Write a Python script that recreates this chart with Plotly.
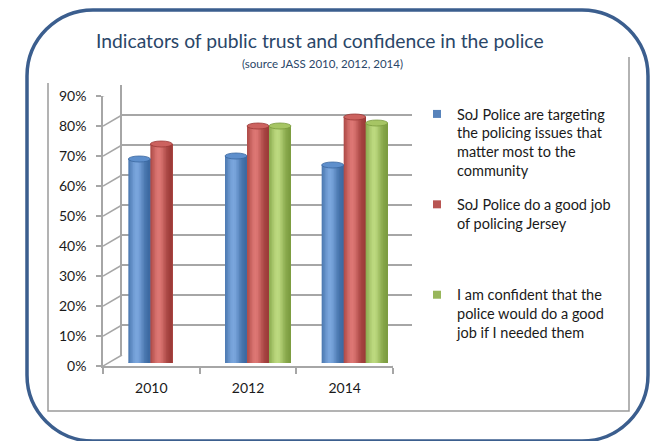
import math
import plotly.graph_objects as go

# ---- data -------------------------------------------------------------
years = ["2010", "2012", "2014"]
series_names = [
    "SoJ Police are targeting<br>the policing issues that<br>matter most to the<br>community",
    "SoJ Police do a good job<br>of policing Jersey<br> <br> ",
    "I am confident that the<br>police would do a good<br>job if I needed them",
]
targeting = [68, 69, 66]
good_job = [73, 79, 82]
confident = [None, 79, 80]
y_ticks = [0, 10, 20, 30, 40, 50, 60, 70, 80, 90]
y_tick_labels = ["0%", "10%", "20%", "30%", "40%", "50%", "60%", "70%", "80%", "90%"]

values = [targeting, good_job, confident]

# ---- styling ----------------------------------------------------------
W, H = 653, 441
FONT = "Lato"
palette = [
    # dark edge, highlight, cap fill
    ("#3A679F", "#7AA6DD", "#5E8FCC"),
    ("#9A3936", "#DD7774", "#CC625F"),
    ("#7A9A3E", "#BCD97F", "#A6C564"),
]
GRID = "#A6A6A6"


def px_x(px):
    return px / W


def px_y(py):
    return 1 - py / H


def mix(c1, c2, t):
    a = [int(c1[i:i + 2], 16) for i in (1, 3, 5)]
    b = [int(c2[i:i + 2], 16) for i in (1, 3, 5)]
    return "#" + "".join(f"{round(a[k] + (b[k] - a[k]) * t):02x}" for k in range(3))


fig = go.Figure()

# invisible traces registering the front and back category axes
for xa, ya in (("x", "y"), ("x2", "y2")):
    fig.add_trace(go.Scatter(x=years, y=[0, 0, 0], mode="markers",
                             marker=dict(opacity=0), showlegend=False,
                             hoverinfo="skip", xaxis=xa, yaxis=ya))

# cylinders: each bar is painted as a stack of vertical shading strips
slot = 0.2276
group_left = -1.5 * slot
N = 14
for i, vals in enumerate(values):
    dark, light, cap = palette[i]
    left = group_left + i * slot
    for k in range(N):
        t = (k + 0.5) / N
        g = math.exp(-((t - 0.38) / 0.33) ** 2)
        fig.add_trace(go.Bar(
            x=years, y=vals,
            offset=left + k * slot / N, width=slot * (N - k) / N,
            marker=dict(color=mix(dark, light, g), line=dict(width=0)),
            showlegend=False, hoverinfo="skip",
            xaxis="x3", yaxis="y3",
        ))

# legend entries
for i, name in enumerate(series_names):
    dark, light, cap = palette[i]
    fig.add_trace(go.Scatter(
        x=[None], y=[None], mode="markers", name=name,
        legendgroup=f"g{i}",
        marker=dict(symbol="square", size=8, color=mix(dark, light, 0.45)),
        xaxis="x3", yaxis="y3",
    ))

shapes = []
# cylinder caps and rounded bottoms, placed through the bar axes
cap_h = 1.0
for i, vals in enumerate(values):
    dark, light, cap = palette[i]
    left = group_left + i * slot
    for j, v in enumerate(vals):
        if v is None:
            continue
        x0 = j + left
        x1 = j + left + slot
        shapes.append(dict(type="circle", xref="x3", yref="y3",
                           x0=x0, x1=x1, y0=-cap_h, y1=cap_h,
                           fillcolor=mix(dark, light, 0.35),
                           line=dict(width=0), layer="between"))
        shapes.append(dict(type="circle", xref="x3", yref="y3",
                           x0=x0, x1=x1, y0=v - cap_h, y1=v + cap_h,
                           fillcolor=cap, line=dict(color=dark, width=0.8),
                           layer="above"))

# perspective edges joining the front axis ticks to the back wall
for t in y_ticks:
    shapes.append(dict(type="line", xref="x", yref="y",
                       xsizemode="pixel", ysizemode="pixel",
                       xanchor=-0.5, yanchor=t,
                       x0=0, x1=19, y0=0, y1=11,
                       line=dict(color=GRID, width=1.5)))
shapes.append(dict(type="line", xref="x", yref="y",
                   xsizemode="pixel", ysizemode="pixel",
                   xanchor=2.5, yanchor=0,
                   x0=0, x1=19, y0=0, y1=11,
                   line=dict(color=GRID, width=1.5)))

# chart area border (left, bottom, right)
shapes.append(dict(type="path", xref="paper", yref="paper",
                   path=f"M {px_x(48)},{px_y(83)} L {px_x(48)},{px_y(411)} "
                        f"L {px_x(629)},{px_y(411)} L {px_x(629)},{px_y(57)}",
                   line=dict(color="#9A9A9A", width=1.5)))

# outer rounded frame
L_, R_, T_, B_, r = 27, 648, 10, 441, 66
k = 0.5523 * r


def P(x, y):
    return f"{px_x(x):.5f},{px_y(y):.5f}"


frame = (
    f"M {P(L_ + r, T_)} L {P(R_ - r, T_)} "
    f"C {P(R_ - r + k, T_)} {P(R_, T_ + r - k)} {P(R_, T_ + r)} "
    f"L {P(R_, B_ - r)} "
    f"C {P(R_, B_ - r + k)} {P(R_ - r + k, B_)} {P(R_ - r, B_)} "
    f"L {P(L_ + r, B_)} "
    f"C {P(L_ + r - k, B_)} {P(L_, B_ - r + k)} {P(L_, B_ - r)} "
    f"L {P(L_, T_ + r)} "
    f"C {P(L_, T_ + r - k)} {P(L_ + r - k, T_)} {P(L_ + r, T_)} Z"
)
shapes.append(dict(type="path", xref="paper", yref="paper", path=frame,
                   line=dict(color="#3B5E8E", width=3.5)))

axis_font = dict(family=FONT, size=14, color="#1A1A1A")

fig.update_layout(
    width=W, height=H,
    autosize=False,
    margin=dict(l=0, r=0, t=0, b=0, pad=0, autoexpand=False),
    paper_bgcolor="white",
    plot_bgcolor="rgba(0,0,0,0)",
    barmode="overlay",
    showlegend=True,
    font=dict(family=FONT),
    shapes=shapes,
    # front axes: tick labels and the front edges
    xaxis=dict(domain=[px_x(103), px_x(393)], type="category",
               categoryarray=years, range=[-0.5, 2.5],
               tickson="boundaries", ticks="outside", ticklen=6,
               tickcolor=GRID, tickwidth=1.5, ticklabelstandoff=8,
               showline=True, linecolor=GRID, linewidth=1.5,
               showgrid=False, zeroline=False, tickfont=axis_font,
               anchor="y", fixedrange=True, automargin=False),
    yaxis=dict(domain=[px_y(366), px_y(96)], range=[0, 90],
               tickvals=y_ticks, ticktext=y_tick_labels, ticks="outside",
               ticklen=5, tickcolor=GRID, tickwidth=1.5, ticklabelstandoff=7,
               showline=True, linecolor=GRID, linewidth=1.5,
               showgrid=False, zeroline=False, tickfont=axis_font,
               anchor="x", fixedrange=True, automargin=False),
    # back wall with gridlines
    xaxis2=dict(domain=[px_x(122), px_x(412)], type="category",
                categoryarray=years, range=[-0.5, 2.5],
                visible=False, anchor="y2", automargin=False),
    yaxis2=dict(domain=[px_y(355), px_y(85)], range=[0, 90],
                tickvals=y_ticks, showticklabels=False, ticks="",
                showgrid=True, gridcolor=GRID, gridwidth=1.5,
                showline=True, linecolor=GRID, linewidth=1.5,
                zeroline=False, anchor="x2", automargin=False),
    # bars sit halfway between the front and back planes
    xaxis3=dict(domain=[px_x(113), px_x(403)], type="category",
                categoryarray=years, range=[-0.5, 2.5],
                visible=False, anchor="y3", automargin=False),
    yaxis3=dict(domain=[px_y(363), px_y(93)], range=[0, 90],
                visible=False, anchor="x3", automargin=False),
    legend=dict(x=px_x(417), y=px_y(98), xanchor="left", yanchor="top",
                font=dict(family=FONT, size=14.5, color="#1A1A1A"),
                valign="top", itemwidth=30, tracegroupgap=12,
                bgcolor="rgba(0,0,0,0)", itemclick=False),
    annotations=[
        dict(text="Indicators of public trust and confidence in the police",
             x=px_x(320), y=px_y(41), xref="paper", yref="paper",
             showarrow=False, xanchor="center", yanchor="middle",
             font=dict(family=FONT, size=19.3, color="#2A4668")),
        dict(text="(source JASS 2010, 2012, 2014)",
             x=px_x(322), y=px_y(64), xref="paper", yref="paper",
             showarrow=False, xanchor="center", yanchor="middle",
             font=dict(family=FONT, size=11.5, color="#2A4668")),
    ],
)

fig.write_html("out.html")
